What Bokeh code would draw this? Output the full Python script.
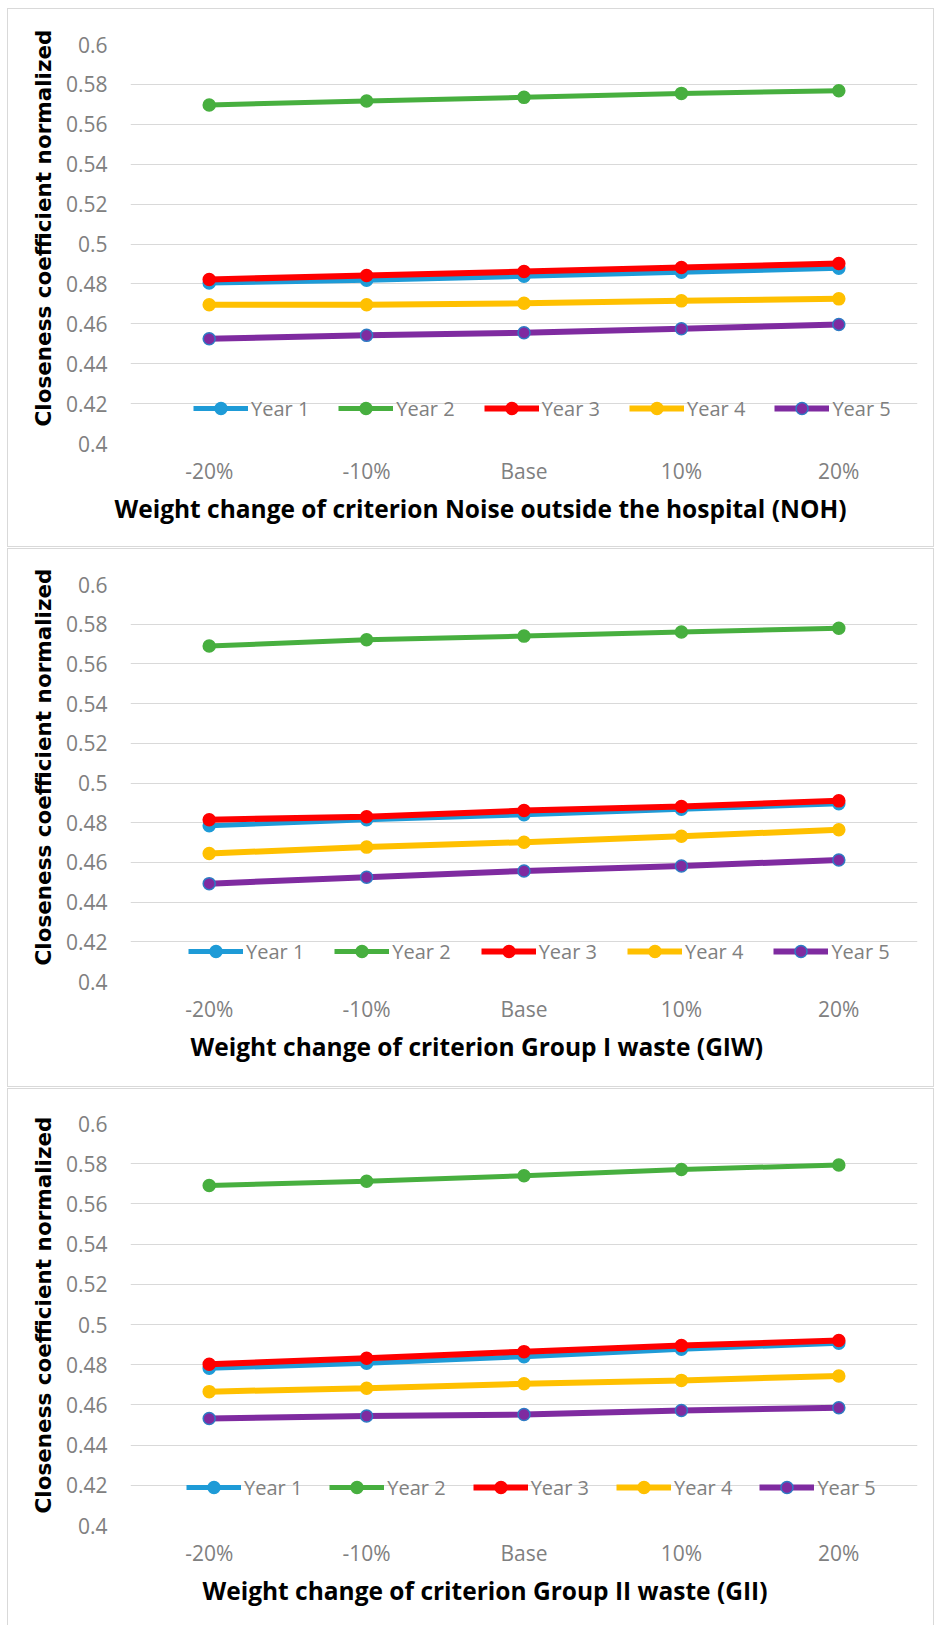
from bokeh.plotting import figure
from bokeh.layouts import column
from bokeh.models import (FixedTicker, CustomJSTickFormatter, Legend, LegendItem,
                          Range1d, FactorRange, Title)
from bokeh.embed import file_html
from bokeh.resources import INLINE

categories = ["-20%", "-10%", "Base", "10%", "20%"]
years = ["Year 1", "Year 2", "Year 3", "Year 4", "Year 5"]
y_ticks = [0.4, 0.42, 0.44, 0.46, 0.48, 0.5, 0.52, 0.54, 0.56, 0.58, 0.6]

# Panel 1: Noise outside the hospital (NOH)
noh_year1 = [0.4805, 0.4818, 0.4838, 0.4858, 0.4878]
noh_year2 = [0.5697, 0.5717, 0.5735, 0.5755, 0.5768]
noh_year3 = [0.4822, 0.4842, 0.4862, 0.4882, 0.4902]
noh_year4 = [0.4695, 0.4695, 0.4703, 0.4715, 0.4725]
noh_year5 = [0.4525, 0.4542, 0.4555, 0.4575, 0.4597]

# Panel 2: Group I waste (GIW)
giw_year1 = [0.4785, 0.4815, 0.4840, 0.4868, 0.4895]
giw_year2 = [0.5690, 0.5722, 0.5740, 0.5761, 0.5780]
giw_year3 = [0.4815, 0.4830, 0.4861, 0.4882, 0.4910]
giw_year4 = [0.4645, 0.4677, 0.4702, 0.4732, 0.4764]
giw_year5 = [0.4493, 0.4525, 0.4557, 0.4582, 0.4612]

# Panel 3: Group II waste (GII)
gii_year1 = [0.4782, 0.4807, 0.4840, 0.4877, 0.4907]
gii_year2 = [0.5692, 0.5713, 0.5740, 0.5771, 0.5794]
gii_year3 = [0.4802, 0.4832, 0.4865, 0.4895, 0.4920]
gii_year4 = [0.4666, 0.4683, 0.4705, 0.4722, 0.4744]
gii_year5 = [0.4532, 0.4545, 0.4552, 0.4572, 0.4586]

x_titles = [
    "Weight change of criterion Noise outside the hospital (NOH)",
    "Weight change of criterion Group I waste (GIW)",
    "Weight change of criterion Group II waste (GII)",
]
y_title = "Closeness coefficient normalized"

colors = ["#1E9BD7", "#47AF3F", "#FF0000", "#FFC000", "#7F2BA0"]
marker_outline = ["#1E9BD7", "#47AF3F", "#FF0000", "#FFC000", "#2E7BC4"]
line_widths = [5, 5, 6, 6, 6]

GREY = "#808080"


def make_panel(series, xtitle, top, bottom, leg_x, leg_y, leg_spacing,
               xt_offset, yt_offset):
    p = figure(x_range=FactorRange(*categories), y_range=Range1d(0.4, 0.6),
               width=927, height=539, output_backend="svg", toolbar_location=None,
               min_border_left=122, min_border_right=18,
               min_border_top=top, min_border_bottom=bottom,
               background_fill_color="white", border_fill_color="white",
               outline_line_color=None,
               styles={"border": "1px solid #d9d9d9"})
    p.x_range.range_padding = 0
    p.xgrid.grid_line_color = None
    p.ygrid.grid_line_color = "#d9d9d9"
    p.ygrid.grid_line_width = 1
    p.yaxis.ticker = FixedTicker(ticks=y_ticks)
    p.yaxis.formatter = CustomJSTickFormatter(
        code="return tick.toFixed(2).replace(/0+$/, '').replace(/\\.$/, '');")
    for ax in (p.xaxis[0], p.yaxis[0]):
        ax.axis_line_color = None
        ax.major_tick_line_color = None
        ax.minor_tick_line_color = None
        ax.major_tick_out = 0
        ax.major_tick_in = 0
        ax.major_label_text_font = "Open Sans"
        ax.major_label_text_font_size = "21px"
        ax.major_label_text_color = GREY
    p.yaxis.major_label_standoff = 23
    p.xaxis.major_label_standoff = 13

    items = []
    for i, vals in enumerate(series):
        rl = p.line(categories, vals, line_color=colors[i], line_width=line_widths[i])
        rs = p.scatter(categories, vals, marker="circle", size=12,
                       fill_color=colors[i], line_color=marker_outline[i], line_width=1.5)
        items.append(LegendItem(label=years[i], renderers=[rl, rs]))

    legend = Legend(items=items, orientation="horizontal", location=(leg_x, leg_y),
                    label_text_font="Open Sans", label_text_font_size="20px",
                    label_text_color=GREY, glyph_width=55, glyph_height=30,
                    label_standoff=3, spacing=leg_spacing, padding=0, margin=0,
                    background_fill_alpha=0, border_line_alpha=0)
    p.add_layout(legend)

    p.add_layout(Title(text=xtitle, align="left", offset=xt_offset,
                       text_font="Open Sans", text_font_size="24.5px",
                       text_font_style="bold", text_color="black", standoff=5), "below")
    p.add_layout(Title(text=y_title, align="left", offset=yt_offset,
                       text_font="DejaVu Sans", text_font_size="21.5px",
                       text_font_style="bold", text_color="black", standoff=14), "left")
    return p


p1 = make_panel([noh_year1, noh_year2, noh_year3, noh_year4, noh_year5],
                x_titles[0], 35, 105, 63, 20, 29, -16, 17)
p2 = make_panel([giw_year1, giw_year2, giw_year3, giw_year4, giw_year5],
                x_titles[1], 35, 107, 58, 15, 30, 60, 16)
p3 = make_panel([gii_year1, gii_year2, gii_year3, gii_year4, gii_year5],
                x_titles[2], 34, 103, 56, 23, 27, 72, 12)

layout = column(p1, p2, p3, spacing=1, margin=(8, 0, 0, 7))

open("out.html", "w").write(file_html(layout, INLINE))
